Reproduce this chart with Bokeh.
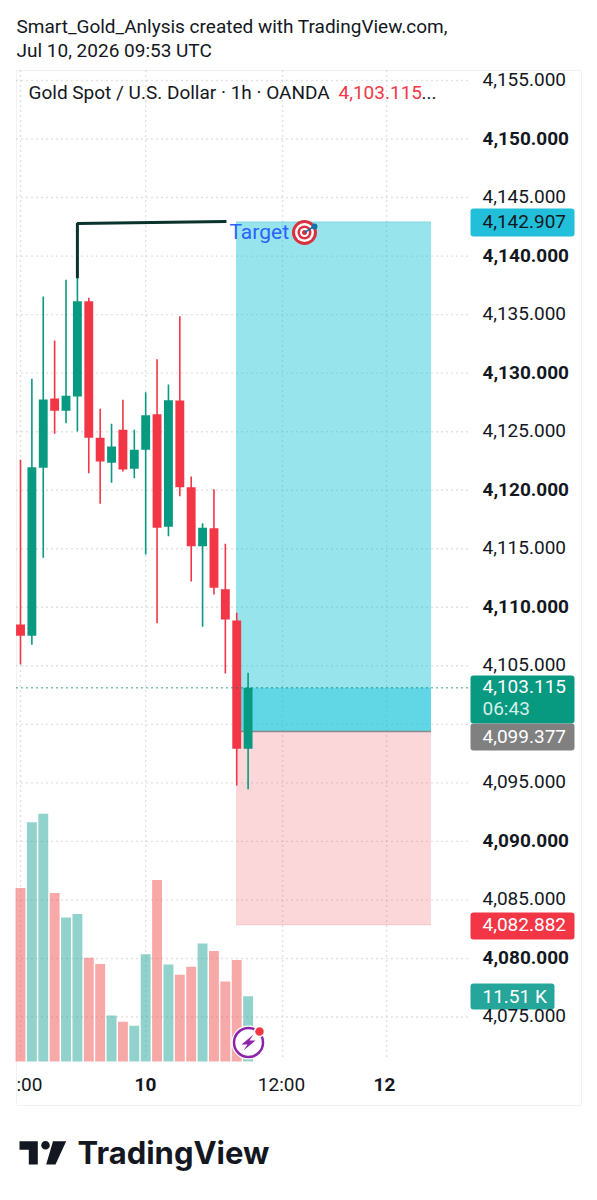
from bokeh.plotting import figure
from bokeh.models import Range1d, BoxAnnotation
from bokeh.core.properties import value
from bokeh.embed import file_html
from bokeh.resources import INLINE

# ---------- data ----------
opens  = [4108.53, 4107.56, 4121.91, 4127.83, 4126.78, 4128.01, 4136.15, 4124.48, 4122.34, 4125.16, 4121.83,
          4123.45, 4126.49, 4116.87, 4127.66, 4120.26, 4115.22, 4116.75, 4111.54, 4108.87, 4097.91]
highs  = [4122.60, 4129.52, 4136.55, 4132.79, 4137.97, 4138.20, 4136.44, 4126.95, 4125.67, 4127.72, 4125.16,
          4128.37, 4131.19, 4129.03, 4134.87, 4121.17, 4117.18, 4120.09, 4115.42, 4109.53, 4104.40]
lows   = [4105.11, 4106.79, 4114.23, 4124.82, 4125.72, 4125.02, 4121.45, 4118.84, 4120.63, 4121.60, 4121.03,
          4114.51, 4108.64, 4116.07, 4119.49, 4112.20, 4108.33, 4111.09, 4104.34, 4094.77, 4094.46]
closes = [4107.56, 4121.97, 4127.75, 4126.78, 4128.07, 4136.15, 4124.48, 4122.45, 4123.73, 4121.77, 4123.45,
          4126.41, 4116.79, 4127.69, 4120.26, 4115.22, 4116.79, 4111.66, 4108.96, 4097.91, 4103.115]
volumes = [30.6, 42.2, 43.7, 29.7, 25.4, 26.0, 18.3, 17.2, 8.1, 7.0, 6.3,
           18.9, 32.0, 17.1, 15.3, 16.7, 20.8, 19.5, 14.1, 17.9, 11.51]
volume_up = [False, True, True, False, True, True, False, False, True, False, True,
             True, False, True, False, False, True, False, False, False, True]

price_ticks = [4155, 4150, 4145, 4140, 4135, 4130, 4125, 4120, 4115, 4110, 4105, 4100, 4095, 4090, 4085, 4080, 4075]
bold_ticks = [4150, 4140, 4130, 4120, 4110, 4090, 4080]
plain_ticks = [4155, 4145, 4135, 4125, 4115, 4105, 4095, 4085, 4075]
time_grid = [0, 11, 23.03, 32.17]

target_price, entry_price, stop_price, last_price = 4142.907, 4099.377, 4082.882, 4103.115
drawing_x = [5, 5, 18.1]
drawing_y = [4138.1, 4142.78, 4142.95]

# ---------- scales ----------
W, H = 589, 1192
BAR_X0, BAR_STEP = 20.0, 11.38
PY0, PX_PER_USD = 80.0, 11.706
VOL_BASE, PX_PER_K = 1061.0, 5.67

def idx(px): return (px - BAR_X0) / BAR_STEP
def price(py): return 4155 - (py - PY0) / PX_PER_USD

p = figure(width=W, height=H, output_backend="svg", toolbar_location=None, min_border=0,
           x_range=Range1d(idx(0), idx(W)), y_range=Range1d(price(H), price(0)),
           background_fill_color="white", border_fill_color="white")
p.extra_x_ranges["px"] = Range1d(0, W)
p.extra_y_ranges["px"] = Range1d(H, 0)
p.extra_y_ranges["vol"] = Range1d((VOL_BASE - H) / PX_PER_K, VOL_BASE / PX_PER_K)
p.axis.visible = False
p.xgrid.visible = False
p.ygrid.visible = False
p.outline_line_color = None

PX = dict(x_range_name="px", y_range_name="px")
UP, DOWN = "#089981", "#F23645"
FONT = value("Roboto")

# pane border
p.quad(left=[16], right=[581], top=[70], bottom=[1105], fill_color=None, line_color="#f2f2f2", line_width=1, **PX)

# grid
GRID = dict(line_color="#c4c4c4", line_width=1.4, line_dash="1 4")
p.segment(x0=[16] * len(price_ticks), x1=[468] * len(price_ticks), y0=price_ticks, y1=price_ticks,
          x_range_name="px", **GRID)
p.segment(x0=time_grid, x1=time_grid, y0=[price(70)] * len(time_grid), y1=[price(1058)] * len(time_grid), **GRID)

# volume
xs = list(range(len(closes)))
p.vbar(x=xs, top=volumes, bottom=0, width=0.87, y_range_name="vol",
       fill_color=["#26a69a" if u else "#ef5350" for u in volume_up], fill_alpha=0.5, line_color=None)

# long position tool
pos_l, pos_r = idx(235.5), idx(430.5)
p.quad(left=[pos_l], right=[pos_r], top=[target_price], bottom=[entry_price], fill_color="#26C6DA", fill_alpha=0.48,
       line_color=None)
p.quad(left=[pos_l], right=[pos_r], top=[entry_price], bottom=[stop_price], fill_color="#F23645", fill_alpha=0.2,
       line_color=None)
p.quad(left=[pos_l], right=[pos_r], top=[last_price], bottom=[entry_price], fill_color="#26C6DA", fill_alpha=0.48,
       line_color=None)
p.segment(x0=[pos_l], x1=[pos_r], y0=[entry_price], y1=[entry_price], line_color="#8a8a8a", line_width=1.5)
p.segment(x0=[pos_l], x1=[pos_r], y0=[target_price], y1=[target_price], line_color="#7fd6e3", line_width=1)
p.segment(x0=[pos_l], x1=[pos_r], y0=[stop_price], y1=[stop_price], line_color="#f5c2c7", line_width=1)

# candles
colors = [UP if c >= o else DOWN for o, c in zip(opens, closes)]
p.segment(x0=xs, x1=xs, y0=lows, y1=highs, line_color=colors, line_width=1.6)
p.vbar(x=xs, top=[max(o, c) for o, c in zip(opens, closes)], bottom=[min(o, c) for o, c in zip(opens, closes)],
       width=0.78, fill_color=colors, line_color=None)

# last price line
p.segment(x0=[16], x1=[468], y0=[last_price], y1=[last_price], x_range_name="px",
          line_color="#067a67", line_width=1.5, line_dash="1 4")

# hand drawn polyline
p.line(x=drawing_x, y=drawing_y, line_color="#0b332d", line_width=3)

# price tags
def tag(left, right, top, bottom, color, radius=3):
    p.add_layout(BoxAnnotation(left=left, right=right, top=top, bottom=bottom, fill_color=color, fill_alpha=1,
                               line_color=None, border_radius=radius, **PX))

tag(470, 574, 208, 236, "#22BFDA")
tag(470, 574, 675, 723, "#089981")
tag(470, 574, 723, 750, "#808080")
tag(470, 574, 912, 939, "#F23645")
tag(470, 554, 983, 1009, "#26A69A")

def txt(x, y, s, color="#131722", size="19px", style="normal", align="left", font=FONT):
    p.text(x=[x], y=[y], text=[s], text_color=color, text_font=font, text_font_size=value(size),
           text_font_style=value(style), text_align=value(align), text_baseline=value("middle"),
           y_offset=-1, level="overlay", **PX)

# price labels
p.text(x=[482] * len(plain_ticks), y=plain_ticks, text=[f"{v:,.3f}" for v in plain_ticks], x_range_name="px",
       text_color="#131722", text_font=FONT, text_font_size=value("19px"), text_baseline=value("middle"),
       y_offset=-1, level="overlay")
p.text(x=[482] * len(bold_ticks), y=bold_ticks, text=[f"{v:,.3f}" for v in bold_ticks], x_range_name="px",
       text_color="#131722", text_font=FONT, text_font_size=value("19px"), text_font_style=value("bold"),
       text_baseline=value("middle"), y_offset=-1, level="overlay")

txt(482, 222, "4,142.907")
txt(482, 687, "4,103.115", color="#ffffff")
txt(482, 709, "06:43", color="#d3efe9")
txt(482, 737, "4,099.377", color="#ffffff")
txt(482, 925, "4,082.882", color="#ffffff")
txt(482, 997, "11.51 K", color="#ffffff")

# time labels
txt(16, 1085, ":00")
txt(145, 1085, "10", style="bold", align="center")
txt(281, 1085, "12:00", align="center")
txt(384, 1085, "12", style="bold", align="center")

# titles
txt(16, 27, "Smart_Gold_Anlysis created with TradingView.com,")
txt(16, 51, "Jul 10, 2026 09:53 UTC")
txt(28, 93, "Gold Spot / U.S. Dollar · 1h · OANDA")
txt(338, 93, "4,103.115", color="#F23645")
txt(421, 93, "...")

# target label with a drawn dart board
txt(229, 232, "Target", color="#2962FF", size="21px")
for d, c in [(25, "#d8313f"), (19, "#ffffff"), (14, "#d8313f"), (9, "#ffffff"), (5, "#d8313f")]:
    p.scatter(x=[304], y=[232], size=d, fill_color=c, line_color=None, level="overlay", **PX)
p.line(x=[304, 315], y=[232, 225], line_color="#1b6fa8", line_width=1.5, level="overlay", **PX)
p.scatter(x=[314], y=[226], size=6, fill_color="#1b6fa8", line_color=None, level="overlay", **PX)

# bolt badge
p.scatter(x=[248], y=[1042], size=34, fill_color="#ffffff", line_color=None, level="overlay", **PX)
p.scatter(x=[248], y=[1042], size=29, fill_color="#ffffff", line_color="#8E24AA", line_width=2.5, level="overlay", **PX)
p.patch(x=[253, 241, 247, 243, 255, 249], y=[1034, 1044, 1044, 1050, 1040, 1040], fill_color="#8E24AA",
        line_color=None, level="overlay", **PX)
p.scatter(x=[259], y=[1031], size=10, fill_color="#F23645", line_color="#ffffff", line_width=1.5, level="overlay", **PX)

# TradingView logo
LOGO = "#131722"
p.patch(x=[19, 37.3, 37.3, 28.3, 28.3, 19], y=[1140.7, 1140.7, 1164, 1164, 1149.3, 1149.3], fill_color=LOGO,
        line_color=None, **PX)
p.scatter(x=[45], y=[1144.8], size=8.6, fill_color=LOGO, line_color=None, **PX)
p.patch(x=[52.5, 65.7, 55, 45.7], y=[1140.7, 1140.7, 1164, 1164], fill_color=LOGO, line_color=None, **PX)
txt(77, 1153, "TradingView", size="31px", style="bold", font=value("Inter"))

open("out.html", "w").write(file_html(p, INLINE))
